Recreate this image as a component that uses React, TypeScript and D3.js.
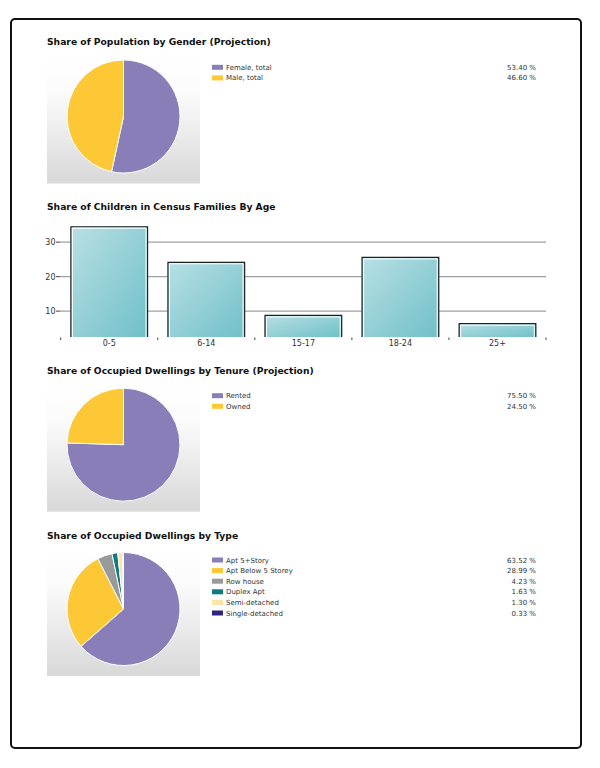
import React from "react";
import * as d3 from "d3";

const genderLabels = ["Female, total", "Male, total"];
const genderValues = [53.4, 46.6];

const ageCategories = ["0-5", "6-14", "15-17", "18-24", "25+"];
const ageValues = [34.6, 24.3, 8.9, 25.7, 6.5];
const ageTicks = [10, 20, 30];

const tenureLabels = ["Rented", "Owned"];
const tenureValues = [75.5, 24.5];

const typeLabels = ["Apt 5+Story", "Apt Below 5 Storey", "Row house", "Duplex Apt", "Semi-detached", "Single-detached"];
const typeValues = [63.52, 28.99, 4.23, 1.63, 1.3, 0.33];

const pieColors = ["#8a7eb8", "#fdc836", "#9a9a9a", "#0f7a80", "#fde3a4", "#2d2680"];

const FONT = "'DejaVu Sans', Verdana, sans-serif";

function PieSection({ title, titleY, cy, labels, values, legendY }: any) {
  const cx = 123.5;
  const r = 56.5;
  const pie = d3.pie<number>().sort(null).value((d) => d);
  const arc = d3.arc<d3.PieArcDatum<number>>().innerRadius(0).outerRadius(r);
  const arcs = pie(values);
  const rowH = 10.6;
  const gid = "bg" + Math.round(cy);
  return (
    <g>
      <defs>
        <linearGradient id={gid} x1="0" y1="0" x2="0" y2="1">
          <stop offset="0" stopColor="#ffffff" />
          <stop offset="0.3" stopColor="#fbfbfb" />
          <stop offset="1" stopColor="#d8d8d8" />
        </linearGradient>
      </defs>
      <text x={47} y={titleY} fontFamily={FONT} fontWeight="bold" fontSize={9.2} fill="#111">
        {title}
      </text>
      <rect x={47} y={cy - 62} width={153} height={129} fill={`url(#${gid})`} />
      <g transform={`translate(${cx},${cy})`}>
        {arcs.map((a, i) => (
          <path key={i} d={arc(a) || ""} fill={pieColors[i]} stroke="#fff" strokeWidth={1} />
        ))}
      </g>
      {labels.map((l: string, i: number) => {
        const y = legendY + i * rowH;
        return (
          <g key={l}>
            <rect x={212} y={y - 2.5} width={11} height={5} fill={pieColors[i]} />
            <text x={226} y={y + 2.5} fontFamily={FONT} fontSize={7} fill="#333">
              {l}
            </text>
            <text x={536} y={y + 2.5} fontFamily={FONT} fontSize={7} fill="#333" textAnchor="end">
              {values[i].toFixed(2) + " %"}
            </text>
          </g>
        );
      })}
    </g>
  );
}

function BarSection() {
  const x = d3.scaleBand<string>().domain(ageCategories).range([60.7, 546]).paddingInner(0.2).paddingOuter(0.1);
  const y = d3.scaleLinear().domain([2.5, 36]).range([337, 337 - 33.5 * 3.45]);
  const base = y(2.5);
  const step = x.step();
  const x0 = 60.7;
  return (
    <g>
      <defs>
        <linearGradient id="barg" x1="0" y1="0" x2="1" y2="1">
          <stop offset="0" stopColor="#b8e0e4" />
          <stop offset="1" stopColor="#70bfc8" />
        </linearGradient>
      </defs>
      <text x={47} y={209.5} fontFamily={FONT} fontWeight="bold" fontSize={9.2} fill="#111">
        Share of Children in Census Families By Age
      </text>
      {ageTicks.map((t) => (
        <g key={t}>
          <line x1={60} x2={546} y1={y(t)} y2={y(t)} stroke="#a0a0a0" strokeWidth={1.2} />
          <line x1={56} x2={60} y1={y(t)} y2={y(t)} stroke="#444" strokeWidth={1} />
          <text x={55.5} y={y(t) + 3} fontFamily={FONT} fontSize={8} fill="#333" textAnchor="end">
            {t}
          </text>
        </g>
      ))}
      {ageCategories.map((c, i) => {
        const bx = x(c)!;
        const bw = x.bandwidth();
        const top = y(ageValues[i]);
        return (
          <g key={c}>
            <rect x={bx} y={top} width={bw} height={base - top} fill="url(#barg)" />
            <path
              d={`M${bx + 0.5},${base} V${top + 0.5} H${bx + bw - 0.5} V${base}`}
              fill="none"
              stroke="#222"
              strokeWidth={1.2}
            />
            <path
              d={`M${bx + 2},${base} V${top + 2} H${bx + bw - 2} V${base}`}
              fill="none"
              stroke="#fff"
              strokeWidth={1}
            />
            <text x={bx + bw / 2} y={346} fontFamily={FONT} fontSize={8} fill="#333" textAnchor="middle">
              {c}
            </text>
          </g>
        );
      })}
      {d3.range(ageCategories.length + 1).map((i) => (
        <line key={i} x1={x0 + i * step} x2={x0 + i * step} y1={337.5} y2={340} stroke="#444" strokeWidth={1} />
      ))}
    </g>
  );
}

export default function App() {
  return (
    <svg width={600} height={768} style={{ position: "absolute", left: 0, top: 0, background: "#fff" }}>
      <rect x={11} y={19} width={570} height={729} rx={4} fill="#fff" stroke="#111" strokeWidth={2} />
      <PieSection
        title="Share of Population by Gender (Projection)"
        titleY={45}
        cy={116.5}
        labels={genderLabels}
        values={genderValues}
        legendY={67.3}
      />
      <BarSection />
      <PieSection
        title="Share of Occupied Dwellings by Tenure (Projection)"
        titleY={373.5}
        cy={444.7}
        labels={tenureLabels}
        values={tenureValues}
        legendY={395.7}
      />
      <PieSection
        title="Share of Occupied Dwellings by Type"
        titleY={538.5}
        cy={609}
        labels={typeLabels}
        values={typeValues}
        legendY={560}
      />
    </svg>
  );
}
